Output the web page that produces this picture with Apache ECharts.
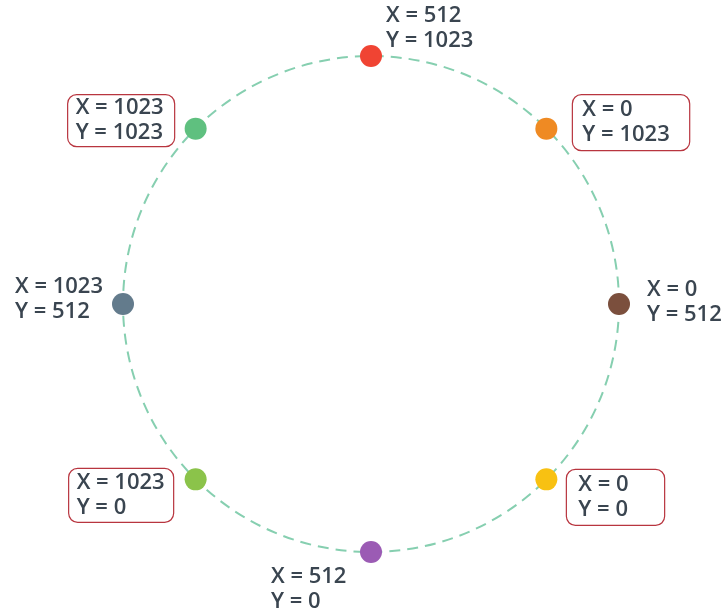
<!DOCTYPE html>
<html><head><meta charset="utf-8">
<script src="https://cdn.jsdelivr.net/npm/echarts@6/dist/echarts.min.js"></script>
<style>html,body{margin:0;padding:0;background:#fff}#c{width:722px;height:615px}</style>
</head><body><div id="c"></div>
<script>
// Points on the circle: angle in degrees (counter-clockwise from east)
const pointAngles = [90, 45, 0, 315, 270, 225, 180, 135];
const xValues = [512, 0, 0, 0, 512, 1023, 1023, 1023];
const yValues = [1023, 1023, 512, 0, 0, 0, 512, 1023];
const pointColors = ['#f04433', '#ef8a23', '#7b4f3d', '#f8c112', '#9b5bb4', '#8bc34a', '#637b8c', '#5fc07f'];
const boxed = [false, true, false, true, false, true, false, true];

// label placement per point (layout only): position relative to symbol box top-left
const labelPos = [[26, -17], [37, 5], [39, 9], [31, 29], [-89, 48], [-116, 27], [-97, 6], [-117, 3]];
const boxPadding = [null, [3, 20, 3, 10], null, [3, 36, 3, 12], null, [2, 9, 2, 8], null, [1, 11, 1, 8]];

const data = pointAngles.map((a, i) => {
  const label = {
    show: true,
    formatter: 'X = ' + xValues[i] + '\nY = ' + yValues[i],
    position: labelPos[i],
    align: 'left',
    verticalAlign: 'middle'
  };
  if (boxed[i]) {
    Object.assign(label, {
      borderColor: '#b8353f', borderWidth: 1.2, borderRadius: 9,
      padding: boxPadding[i]
    });
  }
  return {value: [1, a], itemStyle: {color: pointColors[i], opacity: 1}, label};
});

const chart = echarts.init(document.getElementById('c'));
chart.setOption({
  backgroundColor: '#ffffff',
  animation: false,
  polar: {center: [371, 304], radius: 248},
  angleAxis: {
    type: 'value', min: 0, max: 360, startAngle: 0, clockwise: false,
    axisLine: {show: true, lineStyle: {color: '#86cfb0', width: 2, type: [11, 7]}},
    axisTick: {show: false}, axisLabel: {show: false}, splitLine: {show: false}
  },
  radiusAxis: {
    type: 'value', min: 0, max: 1, show: false,
    axisLine: {show: false}, splitLine: {show: false}
  },
  series: [{
    type: 'scatter',
    coordinateSystem: 'polar',
    symbolSize: 22,
    data: data,
    label: {
      color: '#3a4550', fontSize: 22, lineHeight: 25,
      fontFamily: 'Open Sans', fontWeight: 600
    }
  }]
});
</script></body></html>
